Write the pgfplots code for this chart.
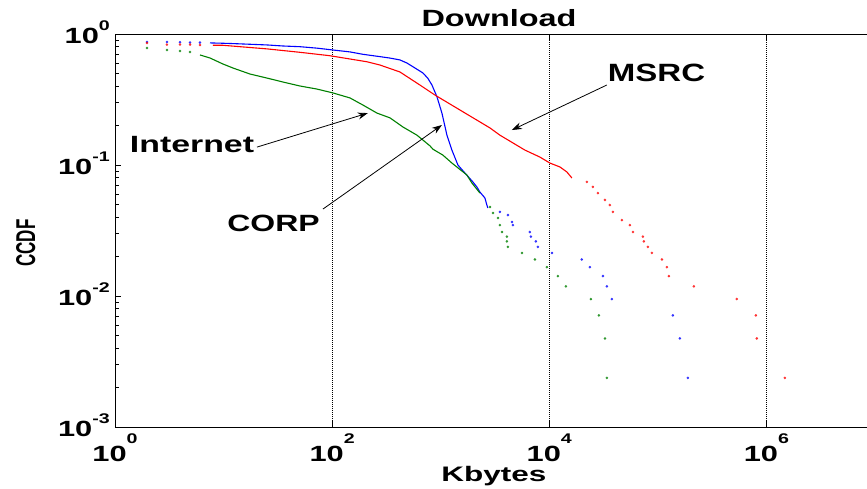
\documentclass[border=0pt]{standalone}
\usepackage{fontspec}
\setmainfont{Liberation Sans}
\usepackage{pgfplots}
\pgfplotsset{compat=1.18}
\usetikzlibrary{arrows.meta}
\newcommand{\xtl}[1]{\scalebox{1.4}[1]{\fontsize{22}{22}\selectfont\bfseries 10\raisebox{18pt}{\fontsize{14}{14}\selectfont #1}}}
\newcommand{\ytl}[1]{\scalebox{1.4}[1]{\fontsize{22}{22}\selectfont\bfseries 10\raisebox{13pt}{\fontsize{14}{14}\selectfont #1}}}
\definecolor{cblue}{RGB}{0,0,255}
\definecolor{cred}{RGB}{255,0,0}
\definecolor{cgreen}{RGB}{0,128,0}
\begin{document}
\begin{tikzpicture}
\useasboundingbox (0,0) rectangle (867pt,489pt);
\clip (0,0) rectangle (867pt,489pt);
\begin{axis}[
  at={(115pt,62pt)}, anchor=south west,
  scale only axis, width=760pt, height=393pt,
  xmode=log, ymode=log,
  xmin=1, xmax=1e7, ymin=1e-3, ymax=1,
  xtick={1,100,10000,1000000},
  xticklabels={\xtl{0},\xtl{2},\xtl{4},\xtl{6}},
  ytick={0.001,0.01,0.1,1},
  yticklabels={\ytl{-3},\ytl{-2},\ytl{-1},\ytl{0}},
  minor xtick={},
  xticklabel style={anchor=base, inner sep=0pt, yshift=-34pt},
  yticklabel style={anchor=base east, inner sep=0pt, xshift=-5pt, yshift=-9pt},
  xmajorgrids,
  major x grid style={black, line width=0.6pt, dash pattern=on 1pt off 1pt},
  tick align=inside,
  major tick length=6pt, minor tick length=4pt,
  axis line style={black, line width=1pt},
  every tick/.style={black, line width=0.8pt},
  clip=true,
]
% CORP (blue)
\addplot[cblue, line width=1.1pt, no markers] coordinates {
(7.5,0.855)(9.87,0.85)(12.2,0.845)(17.5,0.835)(25.1,0.825)(35.2,0.81)(50.5,0.80)(72.4,0.78)(101.7,0.755)(146,0.73)(192,0.70)(275,0.672)(341,0.655)(421,0.634)(489,0.60)(554,0.563)(686,0.504)(760,0.46)(830,0.408)(923,0.332)(1026,0.249)(1141,0.169)(1268,0.130)(1440,0.100)(1671,0.0869)(1980,0.0742)(2154,0.068)(2296,0.0622)(2553,0.056)(2661,0.0495)(2720,0.047)
};
\addplot[only marks, mark=*, mark size=1.1pt, cblue, mark options={fill opacity=0.7, draw opacity=0.7}] coordinates {
(1.97,0.87)(3.01,0.87)(3.97,0.865)(4.91,0.86)(6.06,0.86)
(3508,0.0438)(4158,0.0415)(4529,0.0367)(4624,0.0348)(6624,0.0308)(6772,0.0284)(7518,0.0261)(7852,0.0237)(10570,0.0213)(19950,0.019)(23650,0.0166)(31190,0.0142)(33920,0.01185)(37700,0.00948)(137400,0.00711)(159500,0.00474)(188900,0.00237)
};
% MSRC (red)
\addplot[cred, line width=1.1pt, no markers] coordinates {
(7.98,0.82)(9.87,0.82)(14.2,0.80)(25.1,0.77)(50.5,0.725)(95,0.683)(209,0.614)(275,0.58)(421,0.513)(643,0.408)(885,0.342)(1503,0.263)(2838,0.192)(3508,0.169)(5960,0.13)(8188,0.115)(10130,0.1035)(12530,0.0966)(14520,0.0885)(16150,0.0796)
};
\addplot[only marks, mark=*, mark size=1.1pt, cred, mark options={fill opacity=0.7, draw opacity=0.7}] coordinates {
(1.97,0.854)(3.01,0.83)(3.97,0.83)(4.91,0.83)(6.06,0.825)
(22190,0.0742)(25190,0.068)(28030,0.0611)(32540,0.0541)(36140,0.0495)(38530,0.0438)(46640,0.038)(55230,0.0348)(58880,0.0308)(72810,0.0284)(74300,0.0261)(80910,0.0237)(88080,0.0213)(108900,0.019)(121100,0.0166)(126300,0.0142)(214500,0.01185)(533600,0.00948)(798600,0.00711)(816000,0.00474)(1476000,0.00237)
};
% Internet (green)
\addplot[cgreen, line width=1.1pt, no markers] coordinates {
(6.06,0.692)(7.5,0.656)(9.87,0.59)(12.2,0.55)(17.5,0.495)(25.1,0.461)(35.2,0.43)(50.5,0.401)(72.4,0.38)(101.7,0.355)(146,0.325)(192,0.287)(259,0.249)(341,0.229)(449,0.195)(604,0.169)(796,0.140)(848,0.132)(1047,0.119)(1268,0.1035)(1742,0.0839)(1937,0.0729)(2296,0.0611)
};
\addplot[only marks, mark=*, mark size=1.1pt, cgreen, mark options={fill opacity=0.7, draw opacity=0.7}] coordinates {
(1.97,0.782)(3.01,0.755)(3.97,0.742)(4.91,0.729)
(2838,0.0478)(3027,0.043)(3365,0.0394)(3508,0.0348)(3661,0.0308)(4070,0.0284)(4070,0.0261)(4158,0.0237)(5594,0.0213)(7368,0.019)(9500,0.0166)(12000,0.0142)(14220,0.01185)(24160,0.00948)(28640,0.00711)(32540,0.00474)(33920,0.00237)
};
% annotations
\draw[black, line width=0.8pt, -{Stealth[length=10pt,width=7pt]}] (axis cs:33900,0.408) -- (axis cs:4529,0.185);
\draw[black, line width=0.8pt, -{Stealth[length=10pt,width=7pt]}] (axis cs:20.3,0.137) -- (axis cs:213,0.249);
\draw[black, line width=0.8pt, -{Stealth[length=10pt,width=7pt]}] (axis cs:82.3,0.0461) -- (axis cs:1026,0.202);
\end{axis}
% texts
\node[anchor=base, inner sep=0pt] at (499pt,462pt) {\scalebox{1.38}[1]{\fontsize{23.5}{23.5}\selectfont\bfseries Download}};
\node[anchor=base, inner sep=0pt] at (494pt,7pt) {\scalebox{1.5}[1]{\fontsize{21}{21}\selectfont\bfseries Kbytes}};
\node[anchor=base, inner sep=0pt, rotate=90] at (35pt,246pt) {\scalebox{1}[1.6]{\fontsize{17}{17}\selectfont\bfseries CCDF}};
\node[anchor=base, inner sep=0pt] at (192pt,336pt) {\scalebox{1.44}[1]{\fontsize{23.5}{23.5}\selectfont\bfseries Internet}};
\node[anchor=base, inner sep=0pt] at (273.5pt,257pt) {\scalebox{1.36}[1]{\fontsize{23.5}{23.5}\selectfont\bfseries CORP}};
\node[anchor=base, inner sep=0pt] at (656.5pt,407pt) {\scalebox{1.32}[1]{\fontsize{25}{25}\selectfont\bfseries MSRC}};
\end{tikzpicture}
\end{document}
